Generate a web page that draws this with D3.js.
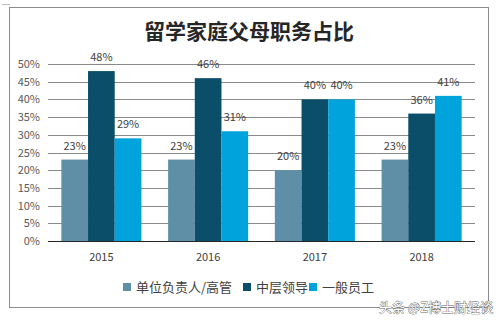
<!DOCTYPE html>
<html>
<head>
<meta charset="utf-8">
<script src="https://cdn.jsdelivr.net/npm/d3@7"></script>
<style>
  body { margin: 0; background: #fff; }
  svg { display: block; font-family: "Noto Sans CJK SC", "Liberation Sans", sans-serif; }
</style>
</head>
<body>
<svg id="chart" width="502" height="321"></svg>
<script>
const years = ["2015", "2016", "2017", "2018"];
const seriesNames = ["单位负责人/高管", "中层领导", "一般员工"];
const headValues = [23, 23, 20, 23];
const middleValues = [48, 46, 40, 36];
const staffValues = [29, 31, 40, 41];
const yTicks = [0, 5, 10, 15, 20, 25, 30, 35, 40, 45, 50];

const colors = ["#5e8fa7", "#0b4e6a", "#00a3db"];
const seriesValues = [headValues, middleValues, staffValues];

const svg = d3.select("#chart");

// outer frame
svg.append("rect")
  .attr("x", 9.5).attr("y", 7.5)
  .attr("width", 479).attr("height", 300)
  .attr("fill", "#fff")
  .attr("stroke", "#8c8c8c");

svg.append("line")
  .attr("x1", 2).attr("x2", 10).attr("y1", 4.5).attr("y2", 4.5)
  .attr("stroke", "#bbb");

svg.append("text")
  .attr("x", 249).attr("y", 39)
  .attr("text-anchor", "middle")
  .style("font-size", "21px")
  .style("font-weight", "bold")
  .attr("fill", "#262626")
  .text("留学家庭父母职务占比");

const x0 = d3.scaleBand()
  .domain(years)
  .range([48, 475])
  .paddingInner(0.25)
  .paddingOuter(0.125);

const x1 = d3.scaleBand()
  .domain(d3.range(seriesNames.length))
  .range([0, x0.bandwidth()]);

const y = d3.scaleLinear().domain([0, 50]).range([241, 64]);

// gridlines
svg.append("g")
  .selectAll("line")
  .data(yTicks.filter(d => d > 0))
  .join("line")
  .attr("x1", 48).attr("x2", 475)
  .attr("y1", d => Math.round(y(d)) + 0.5)
  .attr("y2", d => Math.round(y(d)) + 0.5)
  .attr("stroke", "#8a8a8a");

// y labels
svg.append("g")
  .selectAll("text")
  .data(yTicks)
  .join("text")
  .attr("x", 40)
  .attr("y", d => y(d) + 4)
  .attr("text-anchor", "end")
  .style("font-size", "11px")
  .attr("fill", "#595959")
  .text(d => d + "%");

// bars
const groups = svg.append("g")
  .selectAll("g")
  .data(years)
  .join("g")
  .attr("transform", d => `translate(${x0(d)},0)`);

groups.selectAll("rect")
  .data((d, i) => seriesValues.map((vals, s) => ({ s, v: vals[i] })))
  .join("rect")
  .attr("x", d => x1(d.s))
  .attr("width", x1.bandwidth())
  .attr("y", d => y(d.v))
  .attr("height", d => y(0) - y(d.v))
  .attr("fill", d => colors[d.s]);

groups.selectAll("text")
  .data((d, i) => seriesValues.map((vals, s) => ({ s, v: vals[i] })))
  .join("text")
  .attr("x", d => x1(d.s) + x1.bandwidth() / 2)
  .attr("y", d => y(d.v) - 10)
  .attr("text-anchor", "middle")
  .style("font-size", "11px")
  .attr("fill", "#404040")
  .text(d => d.v + "%");

// x axis line
svg.append("line")
  .attr("x1", 48).attr("x2", 475)
  .attr("y1", 241.5).attr("y2", 241.5)
  .attr("stroke", "#262626");

svg.append("g")
  .selectAll("text")
  .data(years)
  .join("text")
  .attr("x", d => x0(d) + x0.bandwidth() / 2)
  .attr("y", 261)
  .attr("text-anchor", "middle")
  .style("font-size", "11px")
  .attr("fill", "#404040")
  .text(d => d);

// legend
const legendX = [123, 243, 309];
const legend = svg.append("g")
  .selectAll("g")
  .data(seriesNames)
  .join("g")
  .attr("transform", (d, i) => `translate(${legendX[i]},287)`);

legend.append("rect")
  .attr("x", 0).attr("y", -4)
  .attr("width", 8).attr("height", 8)
  .attr("fill", (d, i) => colors[i]);

legend.append("text")
  .attr("x", 13).attr("y", 5)
  .style("font-size", "13px")
  .attr("fill", "#404040")
  .text(d => d);

// watermark
svg.append("text")
  .attr("x", 493).attr("y", 312)
  .attr("text-anchor", "end")
  .style("font-size", "13px")
  .attr("fill", "#fff")
  .attr("stroke", "#666")
  .attr("stroke-width", 0.8)
  .attr("paint-order", "stroke")
  .text("头条 @Z博士财经谈");
</script>
</body>
</html>
